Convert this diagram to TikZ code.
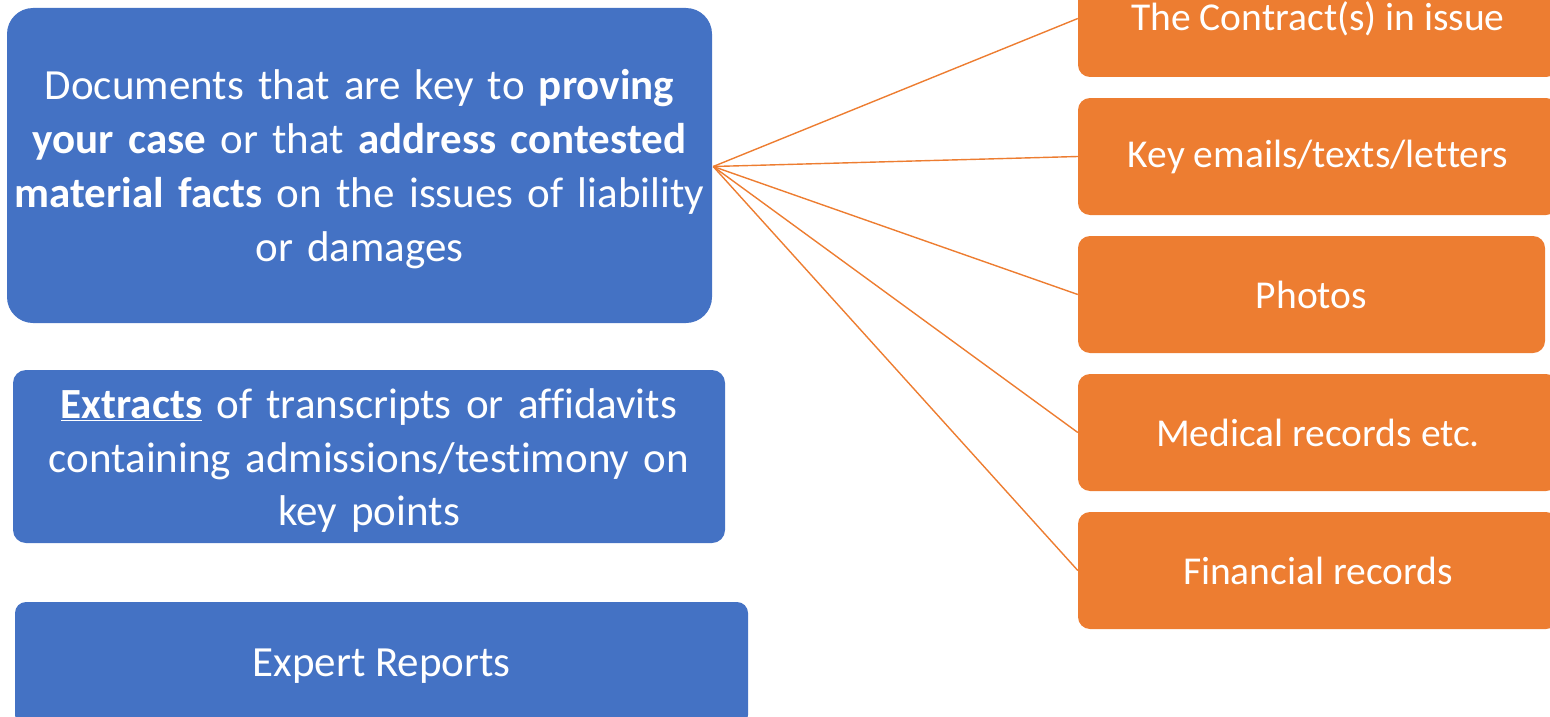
\documentclass[tikz,border=0pt]{standalone}
\usepackage{fontspec}
\setmainfont{Carlito}[Ligatures=NoCommon]
\definecolor{boxblue}{HTML}{4472C4}
\definecolor{boxorange}{HTML}{ED7D31}
\newcommand{\tightspace}{\spaceskip=0.226em\relax}
\begin{document}
\begin{tikzpicture}[x=1pt,y=-1pt,
  bluebox/.style={fill=boxblue, draw=none, inner sep=0pt},
  bluetext/.style={text=white, align=center, inner sep=0pt},
  orangebox/.style={fill=boxorange, draw=none, text=white, align=center, inner sep=0pt,
    rounded corners=12pt, minimum height=117pt, minimum width=480pt,
    font=\fontsize{39.5}{46}\selectfont\tightspace},
  link/.style={draw=boxorange, line width=1.4pt}]
\useasboundingbox (0,0) rectangle (1550,717);
\clip (0,0) rectangle (1550,717);

% left column: boxes
\node[bluebox, rounded corners=26pt, minimum width=705pt, minimum height=315pt] (main) at (359.5,165.5) {};
\node[bluebox, rounded corners=13pt, minimum width=712pt, minimum height=173pt] (extracts) at (369,456.5) {};
\node[bluebox, rounded corners=11pt, minimum width=733pt, minimum height=124pt] (expert) at (381.5,664) {};

% left column: texts
\node[bluetext, text width=700pt, font=\fontsize{43}{54}\selectfont\tightspace] (maintext) at (359.5,169.5)
  {Documents that are key to \textbf{proving}\\ \textbf{your case} or that \textbf{address contested}\\ \textbf{material facts} on the issues of liability\\ or damages};
\node[bluetext, text width=710pt, font=\fontsize{43}{53.5}\selectfont\tightspace] (extractstext) at (369,461)
  {\underline{\textbf{Extracts}} of transcripts or affidavits\\ containing admissions/testimony on\\ key points};
\node[bluetext, font=\fontsize{43}{50}\selectfont\tightspace] (experttext) at (381.5,666)
  {Expert Reports};

% right column
\node[orangebox] (contract) at (1318,18.5) {The Contract(s) in issue};
\node[orangebox] (emails) at (1318,156.5) {Key emails/texts/letters};
\node[orangebox, minimum width=467pt] (photos) at (1311.5,294.5) {Photos};
\node[orangebox] (medical) at (1318,432.5) {Medical records etc.};
\node[orangebox] (financial) at (1318,570.5) {Financial records};

% connectors
\foreach \t in {contract,emails,photos,medical,financial}
  \draw[link] ([xshift=1pt,yshift=-1pt]main.east) -- (\t.west);
\end{tikzpicture}
\end{document}
